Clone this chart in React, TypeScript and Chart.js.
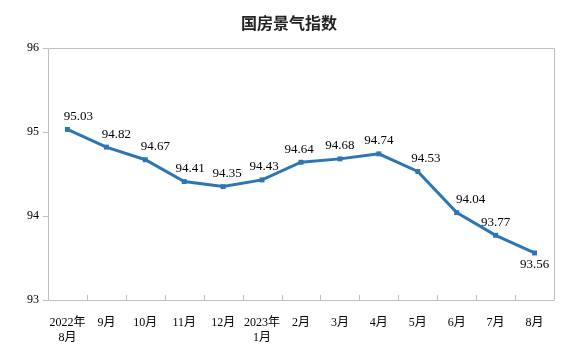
import React, { useEffect, useRef } from "react";
import { Chart, registerables } from "chart.js";
Chart.register(...registerables);

const categories: (string | string[])[] = [
  ["2022年", "8月"], "9月", "10月", "11月", "12月", ["2023年", "1月"],
  "2月", "3月", "4月", "5月", "6月", "7月", "8月",
];
const values = [95.03, 94.82, 94.67, 94.41, 94.35, 94.43, 94.64, 94.68, 94.74, 94.53, 94.04, 93.77, 93.56];
const title = "国房景气指数";
const yMin = 93;
const yMax = 96;

const FONT = "'Liberation Serif', 'Noto Sans CJK SC', serif";
// small horizontal nudges of the value labels (style only)
const labelNudge = [11, 10, 10, 6, 4, 2, -2, 0, 0, 8, 14, 0, 0];

const decor = {
  id: "decor",
  afterDraw(chart: any) {
    const { ctx, chartArea } = chart;
    const { left, right, top, bottom } = chartArea;
    ctx.save();
    ctx.strokeStyle = "#bfbfbf";
    ctx.lineWidth = 1;
    ctx.beginPath();
    ctx.moveTo(left + 0.5, bottom + 0.5);
    ctx.lineTo(left + 0.5, top + 0.5);
    ctx.lineTo(right + 0.5, top + 0.5);
    ctx.lineTo(right + 0.5, bottom + 0.5);
    ctx.lineTo(left + 0.5, bottom + 0.5);
    ctx.stroke();
    const n = categories.length;
    const w = (right - left) / n;
    ctx.beginPath();
    for (let i = 1; i < n; i++) {
      const x = Math.round(left + i * w) + 0.5;
      ctx.moveTo(x, bottom);
      ctx.lineTo(x, bottom - 5);
    }
    ctx.stroke();
    ctx.fillStyle = "#222";
    ctx.font = "bold 16px 'Noto Sans CJK SC', sans-serif";
    ctx.textAlign = "center";
    ctx.textBaseline = "middle";
    ctx.fillText(title, 289, 23);
    const meta = chart.getDatasetMeta(0);
    ctx.font = "13px " + FONT;
    ctx.fillStyle = "#000";
    ctx.textBaseline = "middle";
    meta.data.forEach((pt: any, i: number) => {
      const last = i === values.length - 1;
      ctx.fillText(values[i].toFixed(2), pt.x + labelNudge[i], last ? pt.y + 12 : pt.y - 13);
    });
    ctx.restore();
  },
};

export default function App() {
  const ref = useRef<HTMLCanvasElement>(null);
  useEffect(() => {
    const chart = new Chart(ref.current!, {
      type: "line",
      data: {
        labels: categories,
        datasets: [
          {
            data: values,
            borderColor: "#2e75b6",
            backgroundColor: "#2e75b6",
            borderWidth: 3,
            pointStyle: "rect",
            pointRadius: 3.5,
            pointBorderWidth: 0,
            tension: 0,
          },
        ],
      },
      options: {
        animation: false,
        responsive: false,
        layout: { padding: { top: 48, right: 12, left: 0, bottom: 0 } },
        plugins: { legend: { display: false }, tooltip: { enabled: false }, title: { display: false } },
        scales: {
          x: {
            offset: true,
            grid: { display: false, offset: true },
            border: { display: false },
            ticks: { color: "#000", font: { family: FONT, size: 12 }, padding: 8, maxRotation: 0, autoSkip: false },
            afterFit(s: any) { s.height = 52; },
          },
          y: {
            min: yMin,
            max: yMax,
            ticks: { stepSize: 1, color: "#000", font: { family: FONT, size: 12 }, padding: 4 },
            grid: { drawOnChartArea: false, tickLength: 5, color: "#bfbfbf" },
            border: { display: false },
            afterFit(s: any) { s.width = 48; },
          },
        },
      },
      plugins: [decor],
    });
    return () => chart.destroy();
  }, []);
  return (
    <div style={{ position: "fixed", left: 0, top: 0, width: 566, height: 352, background: "#fff" }}>
      <canvas ref={ref} width={566} height={352} />
    </div>
  );
}
